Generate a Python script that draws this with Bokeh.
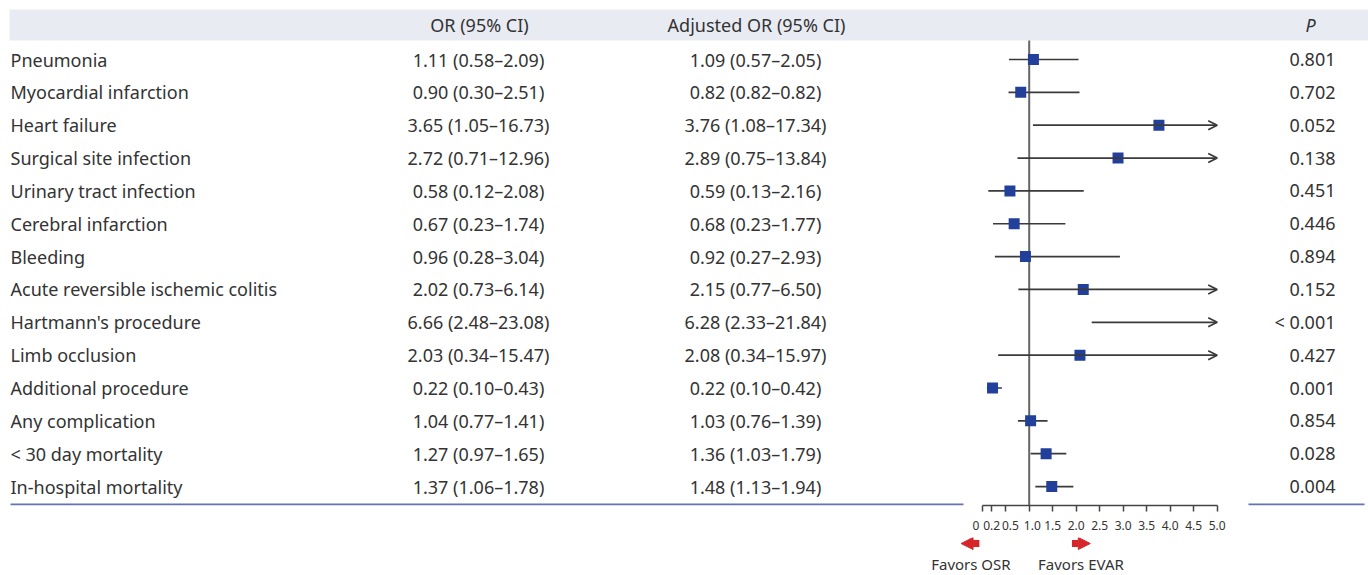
from bokeh.plotting import figure
from bokeh.models import (Range1d, LinearAxis, FixedTicker, ColumnDataSource,
                          Arrow, OpenHead, NormalHead)
from bokeh.layouts import column
from bokeh.embed import file_html
from bokeh.resources import INLINE
from bokeh.core.properties import value

# ---------------- data ----------------
outcomes = ["Pneumonia", "Myocardial infarction", "Heart failure", "Surgical site infection",
            "Urinary tract infection", "Cerebral infarction", "Bleeding",
            "Acute reversible ischemic colitis", "Hartmann's procedure", "Limb occlusion",
            "Additional procedure", "Any complication", "< 30 day mortality",
            "In-hospital mortality"]
or_text = ["1.11 (0.58\u20132.09)", "0.90 (0.30\u20132.51)", "3.65 (1.05\u201316.73)",
           "2.72 (0.71\u201312.96)", "0.58 (0.12\u20132.08)", "0.67 (0.23\u20131.74)",
           "0.96 (0.28\u20133.04)", "2.02 (0.73\u20136.14)", "6.66 (2.48\u201323.08)",
           "2.03 (0.34\u201315.47)", "0.22 (0.10\u20130.43)", "1.04 (0.77\u20131.41)",
           "1.27 (0.97\u20131.65)", "1.37 (1.06\u20131.78)"]
adj_text = ["1.09 (0.57\u20132.05)", "0.82 (0.82\u20130.82)", "3.76 (1.08\u201317.34)",
            "2.89 (0.75\u201313.84)", "0.59 (0.13\u20132.16)", "0.68 (0.23\u20131.77)",
            "0.92 (0.27\u20132.93)", "2.15 (0.77\u20136.50)", "6.28 (2.33\u201321.84)",
            "2.08 (0.34\u201315.97)", "0.22 (0.10\u20130.42)", "1.03 (0.76\u20131.39)",
            "1.36 (1.03\u20131.79)", "1.48 (1.13\u20131.94)"]
p_text = ["0.801", "0.702", "0.052", "0.138", "0.451", "0.446", "0.894", "0.152",
          "< 0.001", "0.427", "0.001", "0.854", "0.028", "0.004"]
# plotted adjusted OR and CI (as drawn)
est = [1.09, 0.82, 3.76, 2.89, 0.59, 0.68, 0.92, 2.15, 6.28, 2.08, 0.22, 1.03, 1.36, 1.48]
lo = [0.57, 0.56, 1.08, 0.75, 0.13, 0.23, 0.27, 0.77, 2.33, 0.34, 0.10, 0.76, 1.03, 1.13]
hi = [2.05, 2.07, 17.34, 13.84, 2.16, 1.77, 2.93, 6.50, 21.84, 15.97, 0.42, 1.39, 1.79, 1.94]
ticks = [0, 0.2, 0.5, 1.0, 1.5, 2.0, 2.5, 3.0, 3.5, 4.0, 4.5, 5.0]
tick_labels = ["0", "0.2", "0.5", "1.0", "1.5", "2.0", "2.5", "3.0", "3.5", "4.0", "4.5", "5.0"]
headers = ["OR (95% CI)", "Adjusted OR (95% CI)", "P"]
favors = ["Favors OSR", "Favors EVAR"]

# ---------------- style / layout ----------------
FONT_NAME = "Noto Sans"
FONT = value(FONT_NAME)
TXT = "#333333"
FS = "18px"
AXMAX = ticks[-1]
W = 1368
PX0 = 0
PXU = 47.0          # pixels per OR unit
ZERO = 981.7        # x of OR = 0
ROW0 = 59.0         # y of first row
ROWH = 32.85
AXY = 505           # y of axis line
AXB = 32            # axis panel height
H2 = 36             # favors panel height

def ry(py):
    return (py - ROW0) / ROWH

n = len(outcomes)
rows = list(range(n))

p = figure(frame_width=W, frame_height=AXY,
           x_range=Range1d(PX0, PX0 + W), y_range=Range1d(ry(AXY), ry(0)),
           output_backend="svg", toolbar_location=None,
           x_axis_type=None, y_axis_type=None,
           min_border_left=0, min_border_right=0, min_border_top=0, min_border_bottom=AXB,
           outline_line_color=None, background_fill_color="white", border_fill_color="white")
p.extra_x_ranges = {"or": Range1d((PX0 - ZERO) / PXU, (PX0 + W - ZERO) / PXU)}

# header band
p.quad(left=[9], right=[PX0 + W], top=[ry(9)], bottom=[ry(40)],
       fill_color="#e9ebf3", line_color=None)
hy = ry(24)
p.text(x=[479, 756], y=[hy, hy], text=headers[:2], text_align="center",
       text_baseline="middle", text_font=FONT, text_font_size=FS, text_color=TXT)
p.text(x=[1310], y=[hy], text=[headers[2]], text_align="center", text_baseline="middle",
       text_font=FONT, text_font_size=FS, text_color=TXT, text_font_style="italic")

src = ColumnDataSource(dict(row=rows, name=outcomes, ort=or_text, adj=adj_text, pv=p_text))
p.text(x=10, y="row", text="name", source=src, text_align="left", text_baseline="middle",
       text_font=FONT, text_font_size=FS, text_color=TXT)
p.text(x=478, y="row", text="ort", source=src, text_align="center", text_baseline="middle",
       text_font=FONT, text_font_size=FS, text_color=TXT)
p.text(x=755, y="row", text="adj", source=src, text_align="center", text_baseline="middle",
       text_font=FONT, text_font_size=FS, text_color=TXT)
p.text(x=1335, y="row", text="pv", source=src, text_align="right", text_baseline="middle",
       text_font=FONT, text_font_size=FS, text_color=TXT)

# bottom rule
p.segment(x0=[10, 1248], x1=[963, 1364], y0=[ry(AXY - 1)] * 2, y1=[ry(AXY - 1)] * 2,
          line_color="#6373b6", line_width=2)

# reference line at OR = 1
p.segment(x0=[1.0], x1=[1.0], y0=[ry(40)], y1=[ry(AXY)], x_range_name="or",
          line_color="#666666", line_width=2)

# CIs
in_r = [i for i in rows if hi[i] <= AXMAX]
out_r = [i for i in rows if hi[i] > AXMAX]
ci_in = ColumnDataSource(dict(y=in_r, lo=[lo[i] for i in in_r], hi=[hi[i] for i in in_r]))
p.segment(x0="lo", x1="hi", y0="y", y1="y", source=ci_in, x_range_name="or",
          line_color="#3a3a3a", line_width=1.7)
ci_out = ColumnDataSource(dict(y=out_r, lo=[lo[i] for i in out_r],
                               hi=[AXMAX for i in out_r]))
p.add_layout(Arrow(x_start="lo", y_start="y", x_end="hi", y_end="y", source=ci_out,
                   x_range_name="or", line_color="#3a3a3a", line_width=1.7,
                   end=OpenHead(size=9, line_color="#3a3a3a", line_width=1.7)))

# point estimates
pt_r = [i for i in rows if est[i] <= AXMAX]
pts = ColumnDataSource(dict(y=pt_r, x=[est[i] for i in pt_r]))
p.scatter(x="x", y="y", source=pts, marker="square", size=11, x_range_name="or",
          fill_color="#22409a", line_color=None)

# axis
labels = dict(zip(ticks, tick_labels))
labels[0] = "0" + "\u00a0" * 4
labels[0.5] = "\u00a0" * 3 + "0.5"
labels[1.0] = "\u00a0" * 2 + "1.0"
ax = LinearAxis(x_range_name="or", bounds=(0, AXMAX), ticker=FixedTicker(ticks=ticks),
                major_label_overrides=labels, major_tick_in=0, major_tick_out=6,
                minor_tick_out=0, minor_tick_in=0, axis_line_color="#444444",
                major_tick_line_color="#444444", axis_line_width=1.5,
                major_tick_line_width=1.5, major_label_standoff=5,
                major_label_text_font=FONT_NAME, major_label_text_font_size="12px",
                major_label_text_color=TXT)
p.add_layout(ax, "below")

# favors panel
Y2 = AXY + AXB
p2 = figure(frame_width=W, frame_height=H2,
            x_range=Range1d(PX0, PX0 + W), y_range=Range1d(Y2 + H2, Y2),
            output_backend="svg", toolbar_location=None,
            x_axis_type=None, y_axis_type=None,
            min_border_left=0, min_border_right=0, min_border_top=0, min_border_bottom=0,
            outline_line_color=None, background_fill_color="white", border_fill_color="white")
p2.extra_x_ranges = {"or": Range1d((PX0 - ZERO) / PXU, (PX0 + W - ZERO) / PXU)}
RED = "#d7262b"
for xs, xe in [(-0.06, -0.45), (1.91, 2.30)]:
    p2.add_layout(Arrow(x_start=xs, y_start=543, x_end=xe, y_end=543, x_range_name="or",
                        line_color=RED, line_width=7,
                        end=NormalHead(size=12, fill_color=RED, line_color=RED, line_width=1)))
p2.text(x=[-0.24, 2.10], y=[563, 563], text=favors, x_range_name="or",
        text_align="center", text_baseline="middle", text_font=FONT,
        text_font_size="15px", text_color=TXT)

lay = column(p, p2, spacing=0)
open("out.html", "w").write(file_html(lay, INLINE))
